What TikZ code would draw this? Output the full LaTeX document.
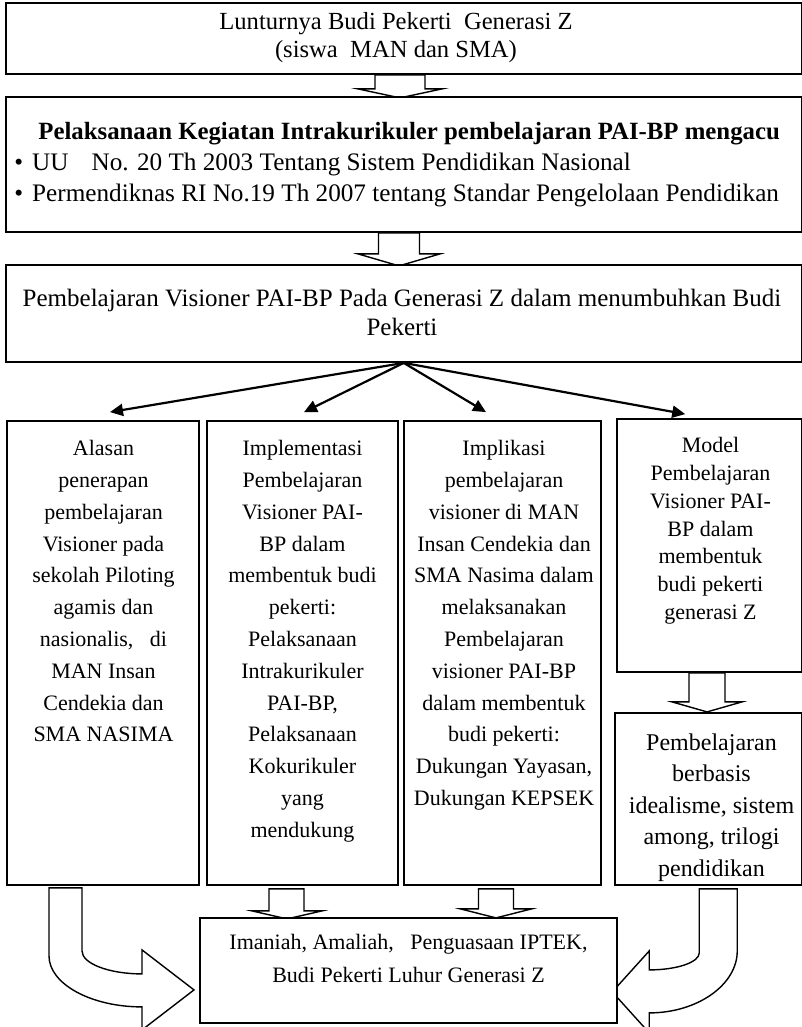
\documentclass[tikz,border=0pt]{standalone}
\usepackage{fontspec}
\setmainfont{Liberation Serif}
\usetikzlibrary{arrows.meta, backgrounds}

\begin{document}
\begin{tikzpicture}[
    x=0.5pt, y=-0.5pt,
    >={Triangle[length=6.5pt, width=6pt]},
    kotak/.style={draw, fill=white, line width=0.9pt, inner sep=0pt},
    isi/.style={align=center, inner sep=0pt, anchor=north,
                font=\fontsize{11}{15.9}\selectfont},
    judulisi/.style={align=center, inner sep=0pt, anchor=north,
                font=\fontsize{12.3}{14}\selectfont},
    panah/.style={->, line width=1.1pt},
    blok/.style={draw, fill=white, line width=0.7pt},
]
\useasboundingbox (0,0) rectangle (802,1027);

% ═══════════════════════════════════════════════════════════════════
%  TOP: three wide boxes
% ═══════════════════════════════════════════════════════════════════
\node[kotak, minimum width=397.75pt, minimum height=35.5pt] (judul)
    at (403.75,38.5) {};
\node[judulisi] (judul-teks) at (396,12)
    {Lunturnya Budi Pekerti\ \ Generasi Z\\(siswa\ \ MAN dan SMA)};

\node[kotak, minimum width=397.75pt, minimum height=67.5pt] (acuan)
    at (403.75,164.5) {};
\node[judulisi, align=left, anchor=north west,
      font=\fontsize{12.6}{15.5}\selectfont] (acuan-teks) at (14,122)
    {\hspace*{12pt}{\fontsize{12.4}{15.5}\selectfont\bfseries Pelaksanaan Kegiatan Intrakurikuler pembelajaran PAI-BP mengacu}\\
     \textbullet\hspace{4.5pt}UU\hspace{11.5pt}No. 20 Th 2003 Tentang Sistem Pendidikan Nasional\\
     \textbullet\hspace{4.5pt}Permendiknas RI No.19 Th 2007 tentang Standar Pengelolaan Pendidikan};

\node[kotak, minimum width=397.75pt, minimum height=48.5pt] (visi)
    at (403.75,313.5) {};
\node[judulisi, font=\fontsize{12.5}{14.5}\selectfont] (visi-teks) at (402,289)
    {Pembelajaran Visioner PAI-BP Pada Generasi Z dalam menumbuhkan Budi\\Pekerti};

% ═══════════════════════════════════════════════════════════════════
%  MIDDLE: four columns
% ═══════════════════════════════════════════════════════════════════
\node[kotak, minimum width=96pt, minimum height=232pt] (alasan) at (103,653) {};
\node[isi] (alasan-teks) at (103.5,440)
    {Alasan\\penerapan\\pembelajaran\\Visioner pada\\sekolah Piloting\\agamis dan\\
     nasionalis,\ \ \ di\\MAN Insan\\Cendekia dan\\SMA NASIMA};

\node[kotak, minimum width=95.5pt, minimum height=232pt] (implementasi)
    at (302.5,653) {};
\node[isi] (implementasi-teks) at (302.5,440)
    {Implementasi\\Pembelajaran\\Visioner PAI-\\BP dalam\\membentuk budi\\pekerti:\\
     Pelaksanaan\\Intrakurikuler\\PAI-BP,\\Pelaksanaan\\Kokurikuler\\yang\\mendukung};

\node[kotak, minimum width=98.5pt, minimum height=232pt] (implikasi)
    at (502.5,653) {};
\node[isi] (implikasi-teks) at (504,440)
    {Implikasi\\pembelajaran\\visioner di MAN\\Insan Cendekia dan\\SMA Nasima dalam\\
     melaksanakan\\Pembelajaran\\visioner PAI-BP\\dalam membentuk\\budi pekerti:\\
     Dukungan Yayasan,\\Dukungan KEPSEK};

\node[kotak, minimum width=92.25pt, minimum height=126.5pt] (model) at (709.25,545.5) {};
\node[isi, font=\fontsize{11}{13.9}\selectfont] (model-teks) at (710.5,437)
    {Model\\Pembelajaran\\Visioner PAI-\\BP dalam\\membentuk\\budi pekerti\\generasi Z};

\node[kotak, minimum width=93.25pt, minimum height=86pt] (berbasis) at (708.25,799) {};
\node[isi, font=\fontsize{12}{15.75}\selectfont] (berbasis-teks) at (711.5,733)
    {Pembelajaran\\berbasis\\idealisme, sistem\\among, trilogi\\pendidikan};

% ═══════════════════════════════════════════════════════════════════
%  BOTTOM: result
% ═══════════════════════════════════════════════════════════════════
\node[kotak, minimum width=208.5pt, minimum height=52.5pt] (hasil) at (408.5,970.5) {};
\node[isi, font=\fontsize{11}{16.5}\selectfont] (hasil-teks) at (408.5,934)
    {Imaniah, Amaliah,\ \ \ Penguasaan IPTEK,\\Budi Pekerti Luhur Generasi Z};

% Fan of arrows from the vision box
\draw[panah] (visi.south) -- ([shift={(7,-8)}]alasan.north);
\draw[panah] (visi.south) -- ([shift={(1.5,-8)}]implementasi.north);
\draw[panah] (visi.south) -- ([shift={(-16.5,-8)}]implikasi.north);
\draw[panah] (visi.south) -- ([shift={(-24,-4)}]model.north);

% Block arrows (behind the boxes)
\begin{scope}[on background layer]
    \fill[white] (0,0) rectangle (802,1027);

    \draw[blok, shift={(judul.south -| 400,0)}]
        (-25,0) -- (-25,14) -- (-42,14) -- (0,23) -- (42,14) -- (25,14)
        -- (25,0) -- cycle;
    \draw[blok, shift={(acuan.south -| 399,0)}]
        (-20.5,0) -- (-20.5,21) -- (-41,21) -- (0,33) -- (41,21) -- (20.5,21)
        -- (20.5,0) -- cycle;
    \draw[blok, shift={(implementasi.south -| 287,0)}]
        (-18,3) -- (-18,25) -- (-35,25) -- (0,33) -- (35,25) -- (17,25)
        -- (17,3) -- cycle;
    \draw[blok, shift={(implikasi.south -| 496,0)}]
        (-17.5,3) -- (-17.5,23) -- (-35.5,23) -- (0,32) -- (35.5,23)
        -- (17.5,23) -- (17.5,3) -- cycle;
    \draw[blok, shift={(model.south -| 707,0)}]
        (-18,0) -- (-18,29) -- (-35,29) -- (0,39) -- (35,29) -- (18,29)
        -- (18,0) -- cycle;

    % Curved arrows into the result box
    \draw[blok, shift={(alasan.south)}]
        (-54,2) -- (-21,2) -- (-21,65)
        .. controls (-21,77.7) and (6,88) .. (39,88)
        -- (39,64) -- (91,104) -- (39,144) -- (39,121)
        .. controls (-12,121) and (-54,98) .. (-54,70) -- cycle;
    \draw[blok, shift={(berbasis.south)}]
        (-9,3) -- (29,3) -- (29,65)
        .. controls (29,99) and (-11,127) .. (-59,127)
        -- (-59,147) -- (-96,106) -- (-59,65) -- (-59,84)
        .. controls (-31.5,84) and (-9,76.4) .. (-9,67) -- cycle;
\end{scope}

\end{tikzpicture}
\end{document}
